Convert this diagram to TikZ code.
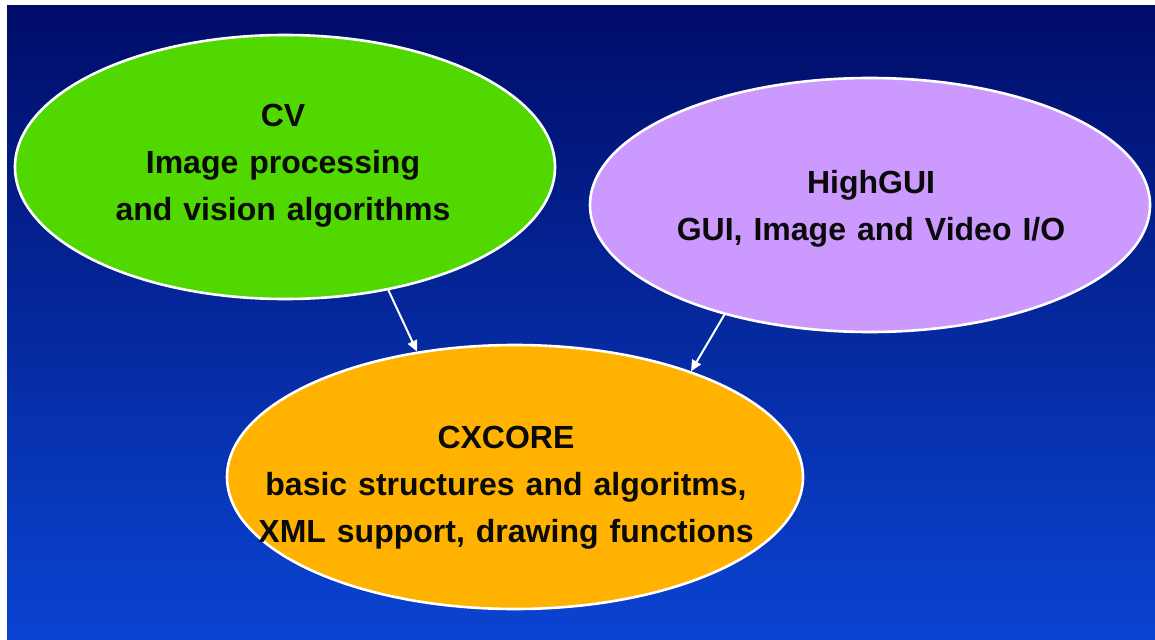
\documentclass[tikz,border=0pt]{standalone}
\usepackage{fontspec}
\setmainfont{Liberation Sans}
\usetikzlibrary{shapes.geometric,arrows.meta}

\definecolor{bgtop}{HTML}{000C68}
\definecolor{bgmid}{HTML}{001F9A}
\definecolor{bgbot}{HTML}{0A44D2}
\definecolor{cvgreen}{HTML}{50D800}
\definecolor{guipurple}{HTML}{CC99FF}
\definecolor{coreorange}{HTML}{FFB300}
\definecolor{inktext}{HTML}{0A0A0A}

% caption font: bold sans with slightly wide word gaps
\newcommand\captionfont{\fontsize{32}{47}\selectfont\bfseries
  \spaceskip=11pt plus 2pt minus 1pt\relax}

\tikzset{
  blob/.style={ellipse, draw=white, line width=2.6pt, inner sep=0pt},
  blobtext/.style={align=center, text=inktext, inner sep=0pt,
    font=\captionfont},
  link/.style={draw=white, line width=2pt,
    -{Triangle[length=11pt,width=10pt]}}
}

\begin{document}
\begin{tikzpicture}[x=1pt, y=-1pt]
  % page area with white frame on the top and left
  \fill[white] (0,0) rectangle (1155,639);
  \useasboundingbox (0,0) rectangle (1155,639);
  \shade[top color=bgtop, middle color=bgmid, bottom color=bgbot]
    (7,6) rectangle (1155,639);

  % modules
  \node[blob, fill=cvgreen, minimum width=540pt, minimum height=264pt]
    (cv) at (285,167) {};
  \node[blob, fill=guipurple, minimum width=560pt, minimum height=254pt]
    (gui) at (870,205) {};
  \node[blob, fill=coreorange, minimum width=576pt, minimum height=264pt]
    (core) at (515,477) {};

  % module captions
  \node[blobtext] (cvtext) at (283,164)
    {\strut CV\\\strut Image processing\\\strut and vision algorithms};
  \node[blobtext] (guitext) at (871,208)
    {\strut HighGUI\\\strut GUI, Image and Video I/O};
  \node[blobtext] (coretext) at (506,486.5)
    {\strut CXCORE\\\strut basic structures and algoritms,\\\strut XML support, drawing functions};

  % dependencies
  \draw[link] (cv.-50) -- (core.128);
  \draw[link] (gui.217) -- (core.31);
\end{tikzpicture}
\end{document}
